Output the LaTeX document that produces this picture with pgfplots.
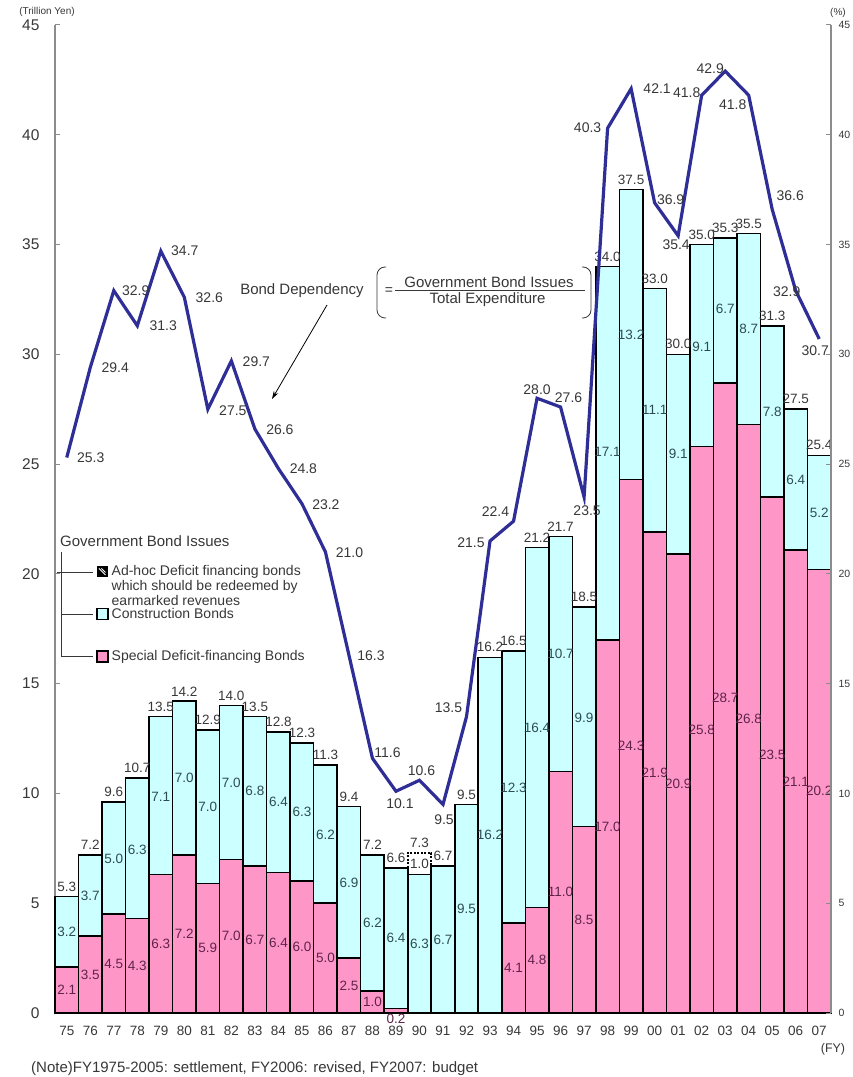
\documentclass[border=0pt]{standalone}
\usepackage{fontspec}
\setmainfont{Liberation Sans}
\usepackage{pgfplots}
\usepackage{pgfplotstable}
\pgfplotsset{compat=1.18}
\usetikzlibrary{arrows.meta}
\definecolor{pinkbar}{RGB}{255,150,200}
\definecolor{cyanbar}{RGB}{204,255,255}
\definecolor{navyline}{RGB}{46,46,150}
\definecolor{lbldark}{RGB}{55,55,55}
\definecolor{lblpink}{RGB}{95,35,75}
\definecolor{lblcyan}{RGB}{45,75,80}
\definecolor{axisgray}{RGB}{140,140,140}
\newcommand{\fs}[1]{\fontsize{#1}{#1}\selectfont}
\newcommand{\bl}[4]{\node[font=\fs{14}, text=lbldark, xshift=#3pt, yshift=#4pt] at (axis cs:#1,#2) {#2};}

\pgfplotstableread{
x p c a tot bd
0 2.1 3.2 0 5.3 25.3
1 3.5 3.7 0 7.2 29.4
2 4.5 5.0 0 9.6 32.9
3 4.3 6.3 0 10.7 31.3
4 6.3 7.1 0 13.5 34.7
5 7.2 7.0 0 14.2 32.6
6 5.9 7.0 0 12.9 27.5
7 7.0 7.0 0 14.0 29.7
8 6.7 6.8 0 13.5 26.6
9 6.4 6.4 0 12.8 24.8
10 6.0 6.3 0 12.3 23.2
11 5.0 6.2 0 11.3 21.0
12 2.5 6.9 0 9.4 16.3
13 1.0 6.2 0 7.2 11.6
14 0.2 6.4 0 6.6 10.1
15 0.0 6.3 1.0 7.3 10.6
16 0.0 6.7 0 6.7 9.5
17 0.0 9.5 0 9.5 13.5
18 0.0 16.2 0 16.2 21.5
19 4.1 12.3 0 16.5 22.4
20 4.8 16.4 0 21.2 28.0
21 11.0 10.7 0 21.7 27.6
22 8.5 9.9 0 18.5 23.5
23 17.0 17.1 0 34.0 40.3
24 24.3 13.2 0 37.5 42.1
25 21.9 11.1 0 33.0 36.9
26 20.9 9.1 0 30.0 35.4
27 25.8 9.1 0 35.0 41.8
28 28.7 6.7 0 35.3 42.9
29 26.8 8.7 0 35.5 41.8
30 23.5 7.8 0 31.3 36.6
31 21.1 6.4 0 27.5 32.9
32 20.2 5.2 0 25.4 30.7
}\bonddata

\begin{document}
\begin{tikzpicture}
\useasboundingbox (0,0) rectangle (852pt,1077pt);
\begin{axis}[
  at={(55pt,64pt)}, anchor=south west,
  scale only axis, width=776pt, height=988pt,
  xmin=-0.5, xmax=32.5, ymin=0, ymax=45,
  clip=false,
  axis y line*=left, axis x line*=bottom,
  axis line style={axisgray, line width=1.2pt},
  ytick={0,5,...,45},
  xtick={0,...,32},
  xticklabels={75,76,77,78,79,80,81,82,83,84,85,86,87,88,89,90,91,92,93,94,95,96,97,98,99,00,01,02,03,04,05,06,07},
  tick align=inside,
  major tick length=5pt,
  ytick style={axisgray, line width=1pt},
  xtick style={draw=none},
  yticklabel style={font=\fs{15.5}, text=lbldark, xshift=-12pt},
  xticklabel style={font=\fs{13.5}, text=lbldark, yshift=-10pt},
  /pgf/number format/assume math mode=true,
]
% ad-hoc deficit financing bonds (FY1990)
\addplot[ybar, bar width=1, bar shift=0pt, fill=white, draw=black, line width=1.6pt,
  dash pattern=on 2pt off 1.5pt, restrict x to domain=14.5:15.5]
  table[x=x, y=tot]{\bonddata};
% construction bonds (top of cyan = special + construction)
\addplot[ybar, bar width=1, bar shift=0pt, fill=cyanbar, draw=black, line width=1.6pt]
  table[x=x, y expr=\thisrow{tot}-\thisrow{a}]{\bonddata};
% special deficit-financing bonds
\addplot[ybar, bar width=1, bar shift=0pt, fill=pinkbar, draw=black, line width=1.6pt]
  table[x=x, y=p]{\bonddata};
% labels
\addplot[draw=none, mark=none, nodes near coords, point meta=explicit symbolic,
  restrict y to domain=0.2:50,
  every node near coord/.append style={anchor=center, font=\fs{13.5}, text=lblpink, inner sep=0pt}]
  table[x=x, y expr=\thisrow{p}/2, meta=p]{\bonddata};
\addplot[draw=none, mark=none, nodes near coords, point meta=explicit symbolic,
  every node near coord/.append style={anchor=center, font=\fs{13.5}, text=lblcyan, inner sep=0pt}]
  table[x=x, y expr=\thisrow{p}+\thisrow{c}/2, meta=c]{\bonddata};
\addplot[draw=none, mark=none, nodes near coords, point meta=explicit symbolic,
  every node near coord/.append style={anchor=south, font=\fs{13.5}, text=lbldark, inner sep=0pt, yshift=5pt}]
  table[x=x, y=tot, meta=tot]{\bonddata};
\node[font=\fs{13.5}, text=lblpink, inner sep=0pt] at (axis cs:14,-0.25) {0.2};
\node[font=\fs{13.5}, text=lbldark, inner sep=0pt] at (axis cs:15,6.8) {1.0};
\end{axis}

\begin{axis}[
  at={(55pt,64pt)}, anchor=south west,
  scale only axis, width=776pt, height=988pt,
  xmin=-0.5, xmax=32.5, ymin=0, ymax=45,
  clip=false,
  axis y line*=right, axis x line=none,
  axis line style={axisgray, line width=1.2pt},
  ytick={0,5,...,45},
  tick align=inside, major tick length=5pt,
  ytick style={axisgray, line width=1pt},
  yticklabel style={font=\fs{10.5}, text=lbldark, xshift=4pt},
  /pgf/number format/assume math mode=true,
]
\addplot[navyline, line width=3.2pt, mark=none] table[x=x, y=bd]{\bonddata};
\bl{0}{25.3}{24}{0}
\bl{1}{29.4}{25}{0}
\bl{2}{32.9}{22}{0}
\bl{3}{31.3}{26}{0}
\bl{4}{34.7}{24}{0}
\bl{5}{32.6}{25}{0}
\bl{6}{27.5}{25}{-1}
\bl{7}{29.7}{25}{-1}
\bl{8}{26.6}{25}{-1}
\bl{9}{24.8}{25}{0}
\bl{10}{23.2}{24}{-1}
\bl{11}{21.0}{24}{-1}
\bl{12}{16.3}{22}{-1}
\bl{13}{11.6}{15}{6}
\bl{14}{10.1}{4}{-12}
\bl{15}{10.6}{2}{10}
\bl{16}{9.5}{1}{-15}
\bl{17}{13.5}{-18}{9}
\bl{18}{21.5}{-19}{-2}
\bl{19}{22.4}{-18}{10}
\bl{20}{28.0}{0}{9}
\bl{21}{27.6}{8}{9}
\bl{22}{23.5}{3}{-14}
\bl{23}{40.3}{-20}{1}
\bl{24}{42.1}{26}{0}
\bl{25}{36.9}{16}{3}
\bl{26}{35.4}{-2}{-9}
\bl{27}{41.8}{-15}{3}
\bl{28}{42.9}{-15}{2}
\bl{29}{41.8}{-16}{-9}
\bl{30}{36.6}{18}{14}
\bl{31}{32.9}{-9}{-1}
\bl{32}{30.7}{-4}{-12}
\end{axis}

\begin{scope}[x=1pt, y=-1pt, shift={(0pt,1077pt)}]
% axis captions
\node[font=\fs{10}, text=lbldark, inner sep=0pt] at (47,12) {(Trillion Yen)};
\node[font=\fs{10}, text=lbldark, inner sep=0pt] at (838,13) {(\%)};
\node[font=\fs{12.5}, text=lbldark, inner sep=0pt] at (833,1049) {(FY)};
\node[font=\fs{15}, text=lbldark, inner sep=0pt, anchor=west] at (31,1069) {(Note)FY1975-2005: settlement, FY2006: revised, FY2007: budget};
% bond dependency annotation
\node[font=\fs{15}, text=lbldark, inner sep=0pt] at (302,291) {Bond Dependency};
\draw[line width=0.8pt, lbldark, rounded corners=8pt] (386,267) -- (377,267) -- (377,318) -- (386,318);
\draw[line width=0.8pt, lbldark, rounded corners=8pt] (582,267) -- (591,267) -- (591,318) -- (582,318);
\node[font=\fs{14}, text=lbldark, inner sep=0pt] at (389,291) {=};
\node[font=\fs{15}, text=lbldark, inner sep=0pt] at (489,282) {Government Bond Issues};
\draw[line width=0.8pt, lbldark] (395,290.7) -- (585,290.7);
\node[font=\fs{15}, text=lbldark, inner sep=0pt] at (487.5,300) {Total Expenditure};
\draw[line width=0.8pt, -{Stealth[length=8pt,width=5pt]}] (327,305) -- (272,399);
% legend
\node[font=\fs{15}, text=lbldark, inner sep=0pt, anchor=west] at (60,541) {Government Bond Issues};
\draw[line width=0.9pt, lbldark] (57,572) -- (93,572);
\draw[line width=0.9pt, lbldark] (61.7,552) -- (61.7,656.5) -- (93,656.5);
\draw[line width=0.9pt, lbldark] (61.7,614) -- (93,614);
\fill[black] (96.5,566) rectangle (108,577.5);
\draw[white, line width=0.9pt] (99,568.5) -- (105.5,575);
\draw[white, line width=0.9pt] (101.5,568.5) -- (105.5,572.5);
\draw[fill=cyanbar, draw=black, line width=1.3pt] (97,608.5) rectangle (108,619.5);
\draw[fill=pinkbar, draw=black, line width=1.3pt] (97,651) rectangle (108,662);
\node[font=\fs{14}, text=lbldark, inner sep=0pt, anchor=west] at (111.5,572) {Ad-hoc Deficit financing bonds};
\node[font=\fs{14}, text=lbldark, inner sep=0pt, anchor=west] at (111.5,586.5) {which should be redeemed by};
\node[font=\fs{14}, text=lbldark, inner sep=0pt, anchor=west] at (111.5,600.5) {earmarked revenues};
\node[font=\fs{14}, text=lbldark, inner sep=0pt, anchor=west] at (111.5,614) {Construction Bonds};
\node[font=\fs{14}, text=lbldark, inner sep=0pt, anchor=west] at (111.5,656.5) {Special Deficit-financing Bonds};
\end{scope}
\end{tikzpicture}
\end{document}
